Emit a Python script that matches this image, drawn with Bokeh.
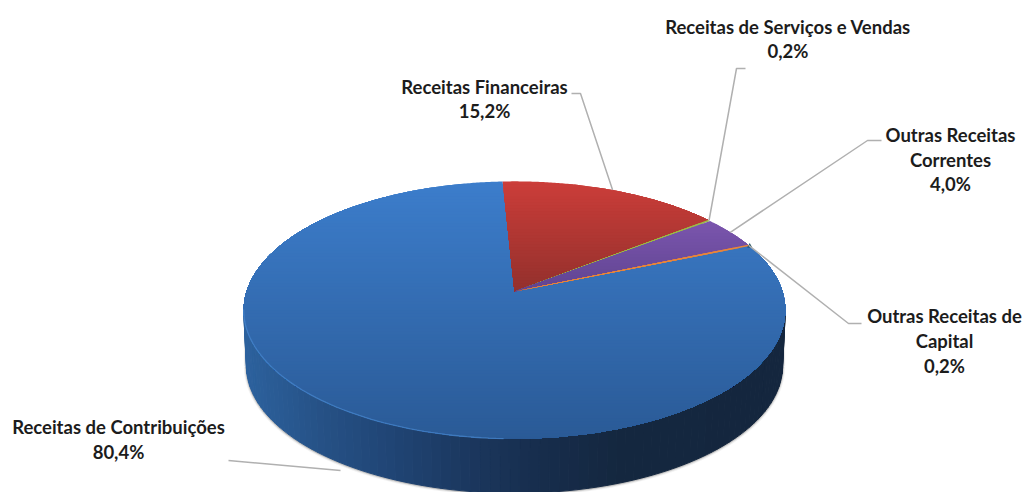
import numpy as np
from bokeh.plotting import figure
from bokeh.embed import file_html
from bokeh.resources import INLINE
from bokeh.core.properties import value

# ---- data
categories = ["Receitas Financeiras", "Receitas de Serviços e Vendas",
              "Outras Receitas Correntes", "Outras Receitas de Capital",
              "Receitas de Contribuições"]
shares = [15.2, 0.2, 4.0, 0.2, 80.4]
share_labels = ["15,2%", "0,2%", "4,0%", "0,2%", "80,4%"]

# ---- pie geometry (page pixels)
CX, CY, RX, RY, PERSP = 514.0, 291.0, 268.0, 126.0, 0.144
START_DEG = -2.9
DEPTH = 56.0

# top / bottom colours of each slice's vertical gradient
top_cols = ["#cb3d39", "#9bbb45", "#7a55ad", "#e8853a", "#3c7dcb"]
bot_cols = ["#92302c", "#9bbb45", "#5f4390", "#e8853a", "#2a5a96"]


def rim(theta, dy=0.0, scale=1.0):
    t = np.radians(theta)
    d = 1 + PERSP * np.cos(t)
    return CX + scale * RX * np.sin(t) / d, CY + dy - scale * RY * np.cos(t) / d


def hex2rgb(h):
    return np.array([int(h[i:i + 2], 16) for i in (1, 3, 5)], dtype=float)


def lerp(a, b, f):
    c = hex2rgb(a) * (1 - f) + hex2rgb(b) * f
    return "#%02x%02x%02x" % tuple(int(round(v)) for v in c)


def clip_below(pts, y0):
    out = []
    n = len(pts)
    for i in range(n):
        a, b = pts[i], pts[(i + 1) % n]
        ina, inb = a[1] >= y0, b[1] >= y0
        if ina:
            out.append(a)
        if ina != inb:
            f = (y0 - a[1]) / (b[1] - a[1])
            out.append((a[0] + f * (b[0] - a[0]), y0))
    return out


# ---- slice boundaries from the shares
edges = START_DEG + np.cumsum([0] + shares) * 3.6

p = figure(width=1023, height=492, x_range=(0, 1023), y_range=(492, 0),
           output_backend="svg", toolbar_location=None, min_border=0,
           outline_line_color=None, background_fill_color="white",
           border_fill_color="white")
p.axis.visible = False
p.grid.visible = False

# ---- soft shadow round the side wall
ts = np.linspace(98.3, 261.7, 120)
sx, sy = rim(ts, DEPTH, 0.99)
for w, a in ((5, 0.08), (3, 0.14), (1.5, 0.25)):
    p.line(sx, sy + 0.5, line_color="#555555", line_width=w, line_alpha=a)
p.line([sx[0] + 1, sx[0] + 1], [sy[0] - 30, sy[0]], line_color="#555555", line_width=3, line_alpha=0.12)
p.line([sx[-1] - 1, sx[-1] - 1], [sy[-1] - 30, sy[-1]], line_color="#555555", line_width=3, line_alpha=0.12)

# ---- side wall of the large slice
stops_x = [245, 330, 400, 470, 540, 620, 785]
stops_c = ["#2c619d", "#254f83", "#1f4372", "#1b375e", "#172d4c", "#14273f", "#14263e"]
xs_w, ys_w, cols_w = [], [], []
steps = np.linspace(98.3, 261.7, 90)
for a, b in zip(steps[:-1], steps[1:]):
    x0, y0 = rim(a)
    x1, y1 = rim(b)
    x2, y2 = rim(b, DEPTH, 0.99)
    x3, y3 = rim(a, DEPTH, 0.99)
    xm = (x0 + x1) / 2
    i = min(np.searchsorted(stops_x, xm), len(stops_x) - 1)
    i = max(i, 1)
    f = np.clip((xm - stops_x[i - 1]) / (stops_x[i] - stops_x[i - 1]), 0, 1)
    c = lerp(stops_c[i - 1], stops_c[i], f)
    xs_w.append([x0, x1, x2, x3])
    ys_w.append([y0, y1, y2, y3])
    cols_w.append(c)
p.patches(xs_w, ys_w, fill_color=cols_w, line_color=cols_w, line_width=1)

# ---- top faces: painted top to bottom, each layer the slice below a given y
STEP = 3.0
for k in [4, 0, 1, 2, 3]:
    th = np.linspace(edges[k], edges[k + 1], max(4, int(shares[k] * 8)))
    rx_, ry_ = rim(th)
    poly = [(CX, CY)] + list(zip(rx_, ry_))
    ys_poly = [q[1] for q in poly]
    lo, hi = min(ys_poly), max(ys_poly)
    xs_b, ys_b, cols_b = [], [], []
    for y0 in np.arange(lo, hi, STEP):
        q = clip_below(poly, y0) if y0 > lo else poly
        if len(q) < 3:
            continue
        f = float(np.clip((y0 - lo) / max(hi - lo, 1), 0, 1))
        c = lerp(top_cols[k], bot_cols[k], f)
        xs_b.append([v[0] for v in q])
        ys_b.append([v[1] for v in q])
        cols_b.append(c)
    p.patches(xs_b, ys_b, fill_color=cols_b, line_color=None)

# ---- light rim on the front-left edge
tr = np.linspace(182, 262, 60)
hx, hy = rim(tr)
p.line(hx, hy, line_color="#4a8bd3", line_width=1.3, line_alpha=0.65)

# small dark tip of the capital slice
mid_cap = (edges[3] + edges[4]) / 2
tx, ty = rim(mid_cap)
p.scatter([tx + 1], [ty + 0.5], marker="triangle", size=5, fill_color="#1f4d5c", line_color=None)

# ---- leader lines, anchored on each slice's rim
mids = (edges[:-1] + edges[1:]) / 2
anchors = [rim(m) for m in mids]
anchors[4] = (340.0, 470.0)
leaders = [
    ([571, 580], [93, 93]),
    ([745, 736], [68, 68]),
    ([881, 867], [140, 140]),
    ([861, 848], [323, 323]),
    ([228], [460]),
]
for (lx, ly), (ax, ay) in zip(leaders, anchors):
    p.line(list(lx) + [ax], list(ly) + [ay], line_color="#b0b0b0", line_width=1.5)

# ---- labels
label_text = ["Receitas Financeiras", share_labels[0],
              "Receitas de Serviços e Vendas", share_labels[1],
              "Outras Receitas", "Correntes", share_labels[2],
              "Outras Receitas de", "Capital", share_labels[3],
              "Receitas de Contribuições", share_labels[4]]
label_x = [484, 484, 787.5, 787.5, 950, 950, 950, 944, 944, 944, 118, 118]
label_y = [86, 110, 26, 50, 134, 159, 183, 315, 340, 365, 426, 451]
p.text(label_x, label_y, text=label_text, text_align="center", text_baseline="middle",
       text_font=value("Lato"), text_font_style="bold", text_font_size="18.5px",
       text_color="#1c1c1c")

open("out.html", "w").write(file_html(p, INLINE))
